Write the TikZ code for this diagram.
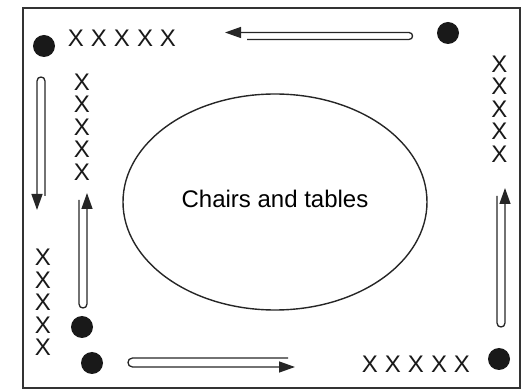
\documentclass[tikz,border=0pt]{standalone}
\usepackage{fontspec}
\setmainfont{Liberation Sans}
\usetikzlibrary{arrows.meta,shapes.geometric}
\newcommand\xxrow{X\hspace{7pt}X\hspace{7pt}X\hspace{7pt}X\hspace{7pt}X}
\newcommand\xxcol{X\\X\\X\\X\\X}
\begin{document}
\begin{tikzpicture}[x=1pt,y=-1pt,
  frame/.style={draw=black!80, line width=1.6pt},
  dot/.style={circle, fill=black!90, inner sep=0pt, minimum size=22pt},
  xrow/.style={inner sep=0pt, text=black!90, font=\fontsize{24}{22.5}\selectfont},
  xcol/.style={inner sep=0pt, align=center, text=black!90, font=\fontsize{24}{22.5}\selectfont},
  flow/.style={draw=black!85, line width=1.3pt, -{Triangle[length=16pt,width=11pt]}},
  area/.style={ellipse, draw=black!85, line width=1.4pt, minimum width=304pt, minimum height=216pt, inner sep=0pt}
  ]
\useasboundingbox (0,0) rectangle (523,390);
\draw[frame] (23,8) rectangle (520,388);
% dots
\node[dot] (d1) at (44,46) {};
\node[dot] (d2) at (448,33) {};
\node[dot] (d3) at (82,327) {};
\node[dot] (d4) at (92,363) {};
\node[dot] (d5) at (499,359) {};
% crosses
\node[xrow] (xtop) at (122,38) {\xxrow};
\node[xrow] (xbot) at (416,364) {\xxrow};
\node[xcol] (xright) at (499.5,109) {\xxcol};
\node[xcol] (xinner) at (82,127) {\xxcol};
\node[xcol] (xleft) at (43,302.5) {\xxcol};
% table area
\node[area] (tables) at (275,202) {};
\node[font=\fontsize{24}{28}\selectfont, inner sep=0pt] (lbl) at (275,199) {Chairs and tables};
% flow arrows
\coordinate (ta) at (247,39.5);
\coordinate (tb) at (225,32.5);
\draw[flow] (ta) -- (409,39.5) .. controls (413.7,39.5) and (413.7,32.5) .. (409,32.5) -- (tb);
\coordinate (la) at (45,196);
\coordinate (lb) at (37,210);
\draw[flow] (la) -- (45,81) .. controls (45,75.7) and (37,75.7) .. (37,81) -- (lb);
\coordinate (ia) at (79,200);
\coordinate (ib) at (87,193);
\draw[flow] (ia) -- (79,304) .. controls (79,309.3) and (87,309.3) .. (87,304) -- (ib);
\coordinate (ra) at (497,196);
\coordinate (rb) at (505,188);
\draw[flow] (ra) -- (497,323) .. controls (497,328.3) and (505,328.3) .. (505,323) -- (rb);
\coordinate (ba) at (288,358);
\coordinate (bb) at (295,367);
\draw[flow] (ba) -- (132.5,358) .. controls (126.5,358) and (126.5,367) .. (132.5,367) -- (bb);
\end{tikzpicture}
\end{document}
